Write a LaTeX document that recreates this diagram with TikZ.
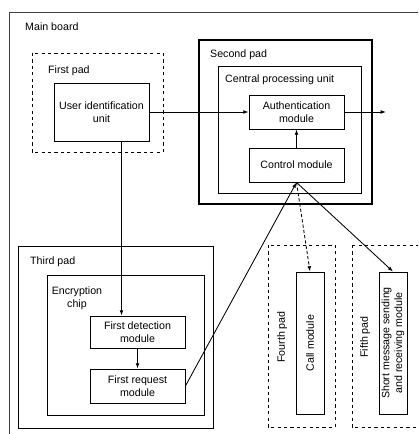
\documentclass[tikz,border=0pt]{standalone}
\usepackage{fontspec}
\setmainfont{Liberation Sans}
\usetikzlibrary{arrows.meta}
\tikzset{
	unit/.style={draw,thick,align=center,inner sep=0pt},
	pad/.style={draw,thick,dashed},
	lbl/.style={anchor=west,inner sep=0pt},
	link/.style={line width=0.8pt,-{Latex[length=5pt,width=3.5pt]}}
}
\begin{document}
\begin{tikzpicture}[x=0.033cm,y=-0.033cm]
		\useasboundingbox (0,0) rectangle (418,434);
		\clip (0,0) rectangle (418,434);
		% boards and pads
		\draw[black!75,line width=0.9pt](9,12) rectangle (440,450);
		\node[lbl] (mainlbl) at (25,27) {Main board};
		\draw[pad](32,53) rectangle (163,152);
		\node[lbl] (firstlbl) at (48,71) {First pad};
		\draw[line width=1.1pt](199,40) rectangle (372,204);
		\node[lbl] (secondlbl) at (210,55) {Second pad};
		\draw[thick](218,66) rectangle (361,193);
		\node[lbl] (cpulbl) at (225,80) {Central processing unit};
		\draw[thick](18,246) rectangle (213,428);
		\node[lbl] (thirdlbl) at (30,262) {Third pad};
		\draw[thick](47,275) rectangle (204,415);
		\node[align=center,inner sep=0pt] (chiplbl) at (77,298) {Encryption\\chip};
		\draw[pad](268,245) rectangle (335,427);
		\node[rotate=90,inner sep=0pt] (fourthlbl) at (282,337) {Fourth pad};
		\draw[pad](352,245) rectangle (440,427);
		\node[rotate=90,inner sep=0pt] (fifthlbl) at (365,337) {Fifth pad};
		% modules
		\node[unit,minimum width=95*0.033cm,minimum height=58*0.033cm] (userid) at (101.5,112) {User identification\\unit};
		\node[unit,minimum width=95*0.033cm,minimum height=34*0.033cm] (auth) at (296.5,112) {Authentication\\module};
		\node[unit,minimum width=95*0.033cm,minimum height=34*0.033cm] (control) at (296.5,165) {Control module};
		\node[unit,minimum width=95*0.033cm,minimum height=32*0.033cm] (detect) at (137.5,332) {First detection\\module};
		\node[unit,minimum width=95*0.033cm,minimum height=34*0.033cm] (request) at (137.5,386) {First request\\module};
		\node[unit,rotate=90,minimum width=142*0.033cm,minimum height=28*0.033cm] (call) at (310,343) {Call module};
		\node[unit,rotate=90,minimum width=142*0.033cm,minimum height=28*0.033cm] (sms) at (393,343) {Short message sending\\and receiving module};
		\coordinate (out) at (386,112);
		% connections
		\draw[link](userid.east)--(auth.west);
		\draw[link](auth.east)--(out);
		\draw[link](control.north)--(auth.south);
		\draw[link]([xshift=0.66cm]userid.south)--([xshift=-0.528cm]detect.north);
		\draw[link](detect.south)--(request.north);
		\draw[link](request.east)--(control.south);
		\draw[link,densely dashed](control.south)--(call.east);
		\draw[link](control.south)--(sms.east);
	    \end{tikzpicture}
\end{document}
